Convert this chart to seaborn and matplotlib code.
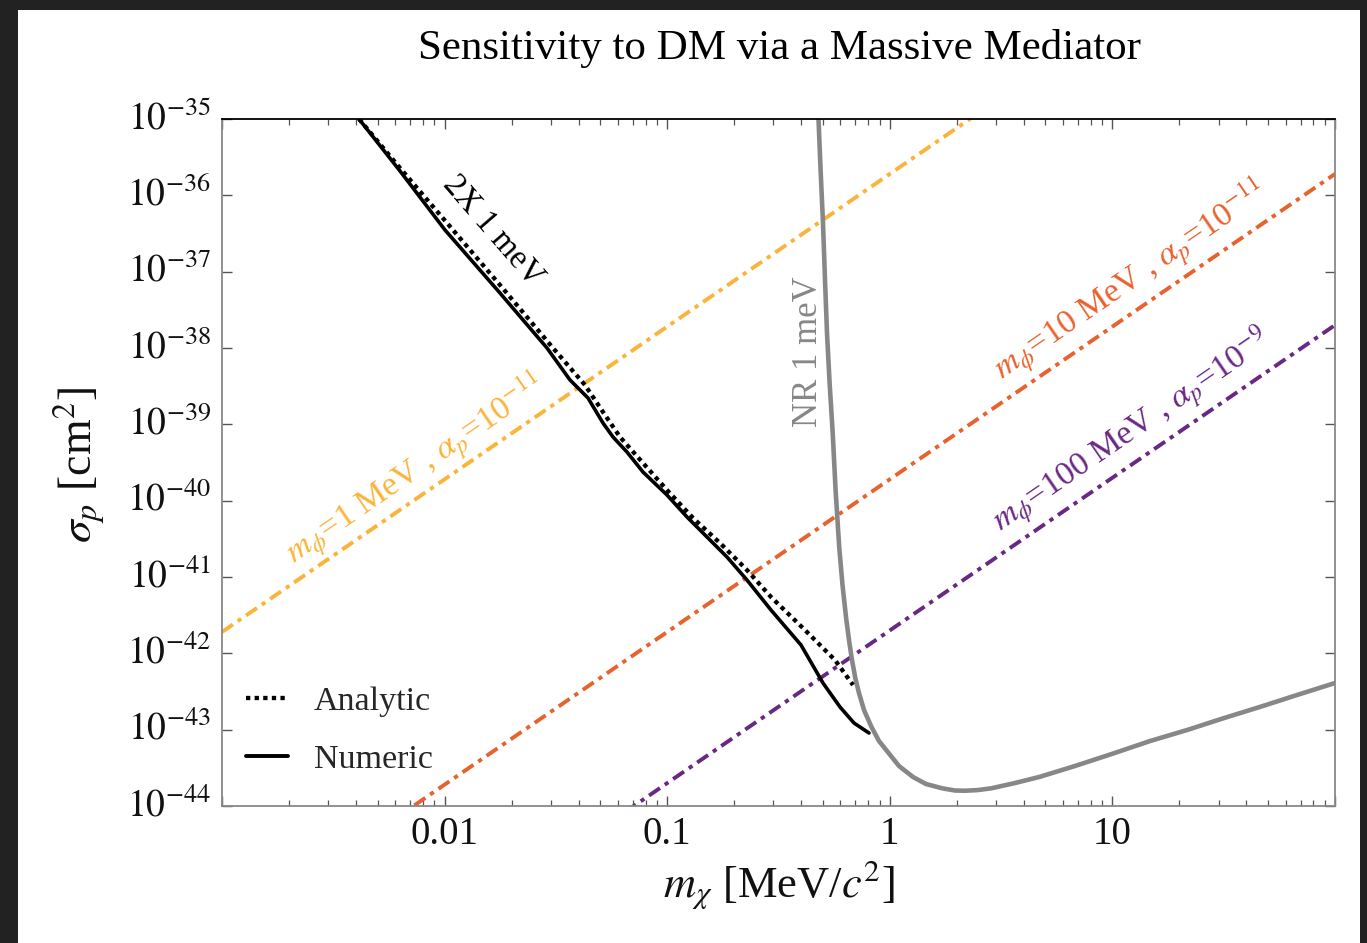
import numpy as np
import pandas as pd
import matplotlib
matplotlib.use("Agg")
import matplotlib.pyplot as plt
import matplotlib.ticker as mticker
from matplotlib.lines import Line2D
from matplotlib.patches import Rectangle
from matplotlib.transforms import ScaledTranslation
import seaborn as sns

sns.set_theme(style="white")
plt.rcParams['font.family'] = ['Liberation Serif', 'DejaVu Serif']
plt.rcParams['mathtext.fontset'] = 'stix'

# ---------------- data (as log10 values) ----------------
# Numeric 2X 1 meV reach (solid)
numeric_log_m = [-2.3845, -2.2004, -1.9982, -1.7511, -1.5400, -1.4366, -1.3558,
                 -1.2884, -1.2435, -1.1806, -1.1087, -1.0009, -0.9110, -0.8212,
                 -0.7314, -0.6415, -0.5337, -0.3989, -0.3001, -0.2237, -0.1608, -0.0934]
numeric_log_s = [-35.000, -35.681, -36.454, -37.280, -38.000, -38.419, -38.655,
                 -38.983, -39.166, -39.363, -39.625, -39.926, -40.214, -40.476,
                 -40.738, -41.040, -41.433, -41.891, -42.389, -42.703, -42.913, -43.044]
# Analytic 2X 1 meV reach (dotted)
analytic_log_m = [-2.3845, -2.2004, -1.9623, -1.7511, -1.5130, -1.3693, -1.2884,
                  -1.2120, -1.1087, -1.0009, -0.8841, -0.7628, -0.6415, -0.5337,
                  -0.3810, -0.2462, -0.1653]
analytic_log_s = [-35.000, -35.642, -36.454, -37.175, -38.000, -38.485, -38.839,
                  -39.166, -39.507, -39.861, -40.227, -40.555, -40.909, -41.262,
                  -41.695, -42.088, -42.415]
# NR 1 meV reach (gray)
nr_log_m = [-0.3203, -0.3109, -0.3001, -0.2911, -0.2821, -0.2704, -0.2565, -0.2435,
            -0.2273, -0.2125, -0.1968, -0.1833, -0.1698, -0.1550, -0.1384, -0.1159,
            -0.0822, -0.0485, -0.0054, 0.0413, 0.1042, 0.1626, 0.2367, 0.2929,
            0.3378, 0.3962, 0.4547, 0.5624, 0.6748, 0.8320, 1.0059, 1.1689,
            1.3351, 1.5013, 1.6653, 1.8293, 1.9955]
nr_log_s = [-35.000, -35.668, -36.363, -37.109, -37.804, -38.459, -39.114, -39.861,
            -40.607, -41.105, -41.524, -41.826, -42.088, -42.323, -42.520, -42.743,
            -42.965, -43.149, -43.306, -43.476, -43.620, -43.712, -43.769, -43.797,
            -43.800, -43.791, -43.769, -43.699, -43.617, -43.476, -43.310, -43.149,
            -43.005, -42.848, -42.700, -42.546, -42.393]
# Massive-mediator benchmark lines (endpoints across the plotted mass range)
med_log_m = [-3.0, 2.0]
med1_log_s = [-41.72, -31.72]     # m_phi = 1 MeV,   alpha_p = 1e-11
med10_log_s = [-45.72, -35.72]    # m_phi = 10 MeV,  alpha_p = 1e-11
med100_log_s = [-47.70, -37.70]   # m_phi = 100 MeV, alpha_p = 1e-9

x_ticks = [1e-3, 1e-2, 1e-1, 1, 10, 100]
x_ticklabels = ['', '0.01', '0.1', '1', '10', '']
y_exponents = list(range(-44, -34))
y_ticks = [10.0 ** k for k in y_exponents]
y_ticklabels = [r'$10^{%d}$' % k for k in y_exponents]

title = 'Sensitivity to DM via a Massive Mediator'
xlabel = r'$m_{\chi}$ [MeV/$c^2$]'
ylabel = r'$\sigma_p$ [cm$^2$]'

YEL = '#FBB43A'
ORA = '#E8622E'
PUR = '#6A2885'
GRY = '#878787'

# ---------------- figure ----------------
W, H = 1367, 943
fig = plt.figure(figsize=(W / 100, H / 100), dpi=100, facecolor='#222222')
fig.patches.append(Rectangle((18 / W, 0), (1360 - 18) / W, (H - 10) / H,
                             transform=fig.transFigure, facecolor='white',
                             edgecolor='none', zorder=-10))
ax = fig.add_axes([222 / W, 1 - 806 / H, (1335 - 222) / W, (806 - 119) / H])
ax.set_facecolor('white')


def frame(lm, ls):
    return pd.DataFrame({'m': np.power(10.0, lm), 's': np.power(10.0, ls)})


dash_dot = (0, (3.4, 1.5, 1.1, 1.5))
for s, c in [(med1_log_s, YEL), (med10_log_s, ORA), (med100_log_s, PUR)]:
    sns.lineplot(data=frame(med_log_m, s), x='m', y='s', ax=ax, color=c, lw=2.8,
                 linestyle=dash_dot, estimator=None, sort=False, legend=False)

sns.lineplot(data=frame(nr_log_m, nr_log_s), x='m', y='s', ax=ax, color=GRY, lw=3.3,
             estimator=None, sort=False, legend=False)
sns.lineplot(data=frame(analytic_log_m, analytic_log_s), x='m', y='s', ax=ax,
             color='black', lw=3.1, linestyle=(0, (1.0, 1.0)), estimator=None,
             sort=False, legend=False)
sns.lineplot(data=frame(numeric_log_m, numeric_log_s), x='m', y='s', ax=ax,
             color='black', lw=2.6, estimator=None, sort=False, legend=False)

ax.set_xscale('log')
ax.set_yscale('log')
ax.set_xlim(1e-3, 1e2)
ax.set_ylim(1e-44, 1e-35)

ax.set_xticks(x_ticks)
ax.set_xticklabels(x_ticklabels)
ax.xaxis.set_minor_locator(mticker.LogLocator(base=10, subs=np.arange(2, 10), numticks=20))
ax.xaxis.set_minor_formatter(mticker.NullFormatter())
ax.set_yticks(y_ticks)
ax.set_yticklabels(y_ticklabels)
ax.yaxis.set_minor_locator(mticker.NullLocator())

ax.tick_params(axis='x', which='major', direction='in', length=7, width=1.0,
               color='#555555', top=True, bottom=True, labelsize=28, pad=7)
ax.tick_params(axis='x', which='minor', direction='in', length=4, width=0.9,
               color='#555555', top=True, bottom=True)
ax.tick_params(axis='y', which='major', direction='in', length=7, width=1.0,
               color='#555555', left=True, right=True, labelsize=27, pad=8)
for lab in ax.get_xticklabels() + ax.get_yticklabels():
    lab.set_color('#111111')
for lab in ax.get_yticklabels():
    lab.set_transform(lab.get_transform() + ScaledTranslation(0, 4 / 100, fig.dpi_scale_trans))

for side in ['left', 'bottom', 'right']:
    ax.spines[side].set_color('#888888')
    ax.spines[side].set_linewidth(1.3)
ax.spines['top'].set_color('black')
ax.spines['top'].set_linewidth(1.3)

fig.text((415 + 1143) / 2 / W, 1 - 48 / H, title, ha='center', va='center',
         fontsize=31, color='black')
ax.set_xlabel(xlabel, fontsize=32, color='#111111')
ax.set_ylabel(ylabel, fontsize=33, color='#111111')
ax.xaxis.set_label_coords(0.5, -(858 - 806) / 687)
ax.yaxis.set_label_coords((107 - 222) / 1113, 0.497)

# annotations
ax.text(0.0165, 3.5e-37, '2X 1 meV', rotation=-49, ha='center', va='center',
        rotation_mode='anchor', fontsize=23.5, color='black')
ax.text(0.4335, 8.85e-39, 'NR 1 meV', rotation=90, ha='center', va='center',
        rotation_mode='anchor', fontsize=25, color=GRY)
ax.text(0.00736, 2.52e-40, r'$m_\phi$=1 MeV , $\alpha_p$=10$^{-11}$', rotation=34.5,
        ha='center', va='center', rotation_mode='anchor', fontsize=24.5, color=YEL)
ax.text(12.0, 7.55e-38, r'$m_\phi$=10 MeV , $\alpha_p$=10$^{-11}$', rotation=34.5,
        ha='center', va='center', rotation_mode='anchor', fontsize=24.5, color=ORA)
ax.text(12.1, 8.43e-40, r'$m_\phi$=100 MeV , $\alpha_p$=10$^{-9}$', rotation=34.5,
        ha='center', va='center', rotation_mode='anchor', fontsize=24.5, color=PUR)

handles = [Line2D([], [], color='black', lw=3.1, linestyle=(0, (1.0, 1.0))),
           Line2D([], [], color='black', lw=2.8)]
ax.legend(handles, ['Analytic', 'Numeric'], loc='lower left',
          bbox_to_anchor=(-0.006, 0.0), frameon=False, fontsize=24.5,
          handlelength=1.24, handletextpad=0.76, labelspacing=0.8)

fig.savefig('out.png', dpi=100, facecolor=fig.get_facecolor())
